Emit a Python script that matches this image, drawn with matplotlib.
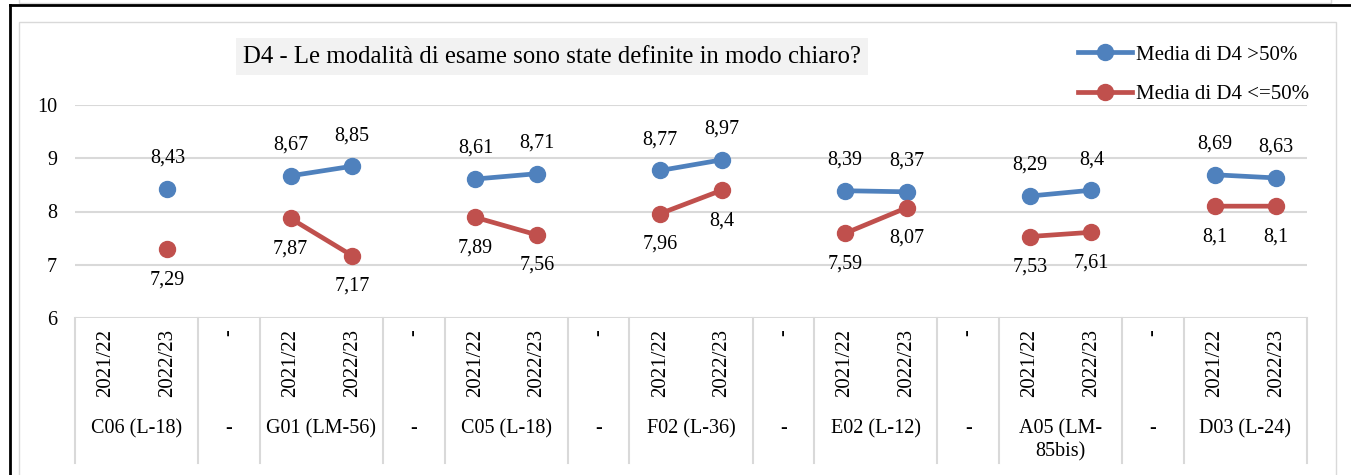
import numpy as np
import matplotlib
matplotlib.use("Agg")
import matplotlib.pyplot as plt
from matplotlib.lines import Line2D
from matplotlib.patches import Rectangle
from matplotlib.transforms import blended_transform_factory

plt.rcParams["font.family"] = ["Liberation Serif", "DejaVu Serif"]

# Data
groups = ["C06 (L-18)", "G01 (LM-56)", "C05 (L-18)", "F02 (L-36)",
          "E02 (L-12)", "A05 (LM-\n85bis)", "D03 (L-24)"]
years = ["2021/22", "2022/23"]
sep_label = "-"
high = [[np.nan, 8.43], [8.67, 8.85], [8.61, 8.71], [8.77, 8.97],
        [8.39, 8.37], [8.29, 8.40], [8.69, 8.63]]
low = [[np.nan, 7.29], [7.87, 7.17], [7.89, 7.56], [7.96, 8.40],
       [7.59, 8.07], [7.53, 7.61], [8.10, 8.10]]
series_names = ["Media di D4 >50%", "Media di D4 <=50%"]
title = "D4 - Le modalità di esame sono state definite in modo chiaro?"

BLUE = "#4F81BD"
RED = "#C0504D"
GRID = "#D9D9D9"
FS = 14.5

# build flat slot arrays: 2 years per group, "-" separator between groups
def flatten(vals):
    out = []
    for i, v in enumerate(vals):
        out += list(v)
        if i < len(vals) - 1:
            out.append(np.nan)
    return np.array(out, dtype=float)

y_high = flatten(high)
y_low = flatten(low)
n = len(y_high)
x = np.arange(n)

W, H = 1351, 475
fig = plt.figure(figsize=(W / 100, H / 100), dpi=100)

def fx(px):
    return px / W

def fy(py):
    return 1 - py / H

# outer frame decorations
fig.add_artist(Line2D([fx(19), fx(19), fx(1331), fx(1331)], [fy(0), fy(2.5), fy(2.5), fy(0)],
                      color="#D9D9D9", lw=1))
fig.add_artist(Line2D([fx(10), fx(W)], [fy(5), fy(5)], color="black", lw=2))
fig.add_artist(Line2D([fx(10), fx(10)], [fy(5), fy(H)], color="black", lw=2))
fig.add_artist(Rectangle((fx(19), fy(H + 5)), fx(1336 - 19), fy(22) - fy(H + 5),
                         transform=fig.transFigure, fill=False, edgecolor="#D9D9D9", lw=1))

ax = fig.add_axes([fx(75), fy(318), fx(1307 - 75), fy(105) - fy(318)])
ax.set_xlim(-0.5, n - 0.5)
ax.set_ylim(6, 10)
ax.set_yticks([6, 7, 8, 9, 10])
ax.set_yticklabels(["6", "7", "8", "9", "10"], fontsize=FS)
ax.tick_params(axis="y", length=0, pad=13)
ax.set_xticks([])
ax.grid(axis="y", color=GRID, lw=1.5)
ax.set_axisbelow(True)
for s in ax.spines.values():
    s.set_visible(False)

for y, c in [(y_high, BLUE), (y_low, RED)]:
    ax.plot(x, y, color=c, lw=3.4, marker="o", markersize=11.5, solid_capstyle="round")

def fmt(v):
    return f"{v:g}".replace(".", ",")

for xi, v in zip(x, y_high):
    if not np.isnan(v):
        ax.annotate(fmt(v), (xi, v), xytext=(0, 22), textcoords="offset points",
                    ha="center", va="center", fontsize=FS)
for xi, v in zip(x, y_low):
    if not np.isnan(v):
        ax.annotate(fmt(v), (xi, v), xytext=(0, -22), textcoords="offset points",
                    ha="center", va="center", fontsize=FS)

# multi-level category axis
tr = blended_transform_factory(ax.transData, fig.transFigure)
bounds = [-0.5]
pos = 0
for i in range(len(groups)):
    pos += 2
    bounds.append(pos - 0.5)
    if i < len(groups) - 1:
        pos += 1
        bounds.append(pos - 0.5)
for b in bounds:
    fig.add_artist(Line2D([b, b], [fy(318), fy(463)], transform=tr, color=GRID, lw=1.5))

pos = 0
for i, g in enumerate(groups):
    for k, yr in enumerate(years):
        ax.text(pos + k, fy(329), yr, transform=tr, rotation=90, ha="center", va="top", fontsize=15)
    ax.text(pos + 0.5, fy(419), g, transform=tr, ha="center", va="top", fontsize=FS,
            multialignment="center", linespacing=1.25)
    pos += 2
    if i < len(groups) - 1:
        ax.text(pos, fy(329), sep_label, transform=tr, rotation=90, ha="center", va="top", fontsize=FS)
        ax.text(pos, fy(419), sep_label, transform=tr, ha="center", va="top", fontsize=FS)
        pos += 1

# title box
fig.add_artist(Rectangle((fx(236), fy(75)), fx(868 - 236), fy(38) - fy(75),
                         transform=fig.transFigure, facecolor="#F2F2F2", edgecolor="none"))
fig.text(fx(552), fy(57), title, ha="center", va="center", fontsize=17.8)

# legend
handles = [Line2D([], [], color=c, lw=3.4, marker="o", markersize=11.5) for c in (BLUE, RED)]
fig.legend(handles, series_names, loc="upper left", bbox_to_anchor=(fx(1078), fy(45)),
           frameon=False, fontsize=15, handlelength=2.6, handletextpad=0.2,
           labelspacing=0.96, borderpad=0, borderaxespad=0, numpoints=1)

fig.savefig("out.png", dpi=100)
